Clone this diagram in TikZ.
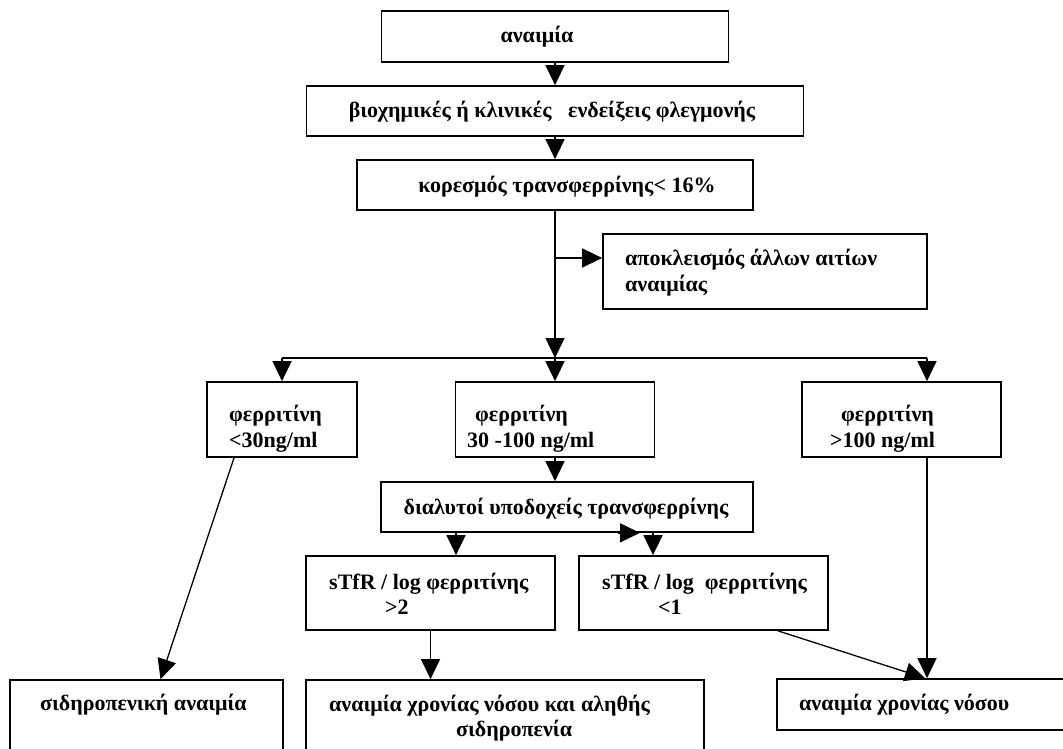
\documentclass[tikz,border=0pt]{standalone}
\usepackage{fontspec}
\setmainfont{Liberation Serif}
\usetikzlibrary{arrows.meta}
\begin{document}
\begin{tikzpicture}[x=1pt,y=-1pt]
      \tikzstyle{every node}+=[inner sep=0pt,font=\fontsize{22}{25.5}\selectfont\bfseries]
      \tikzstyle{box}=[draw=black,line width=1.7pt,rectangle]
      \tikzstyle{txt}=[align=left,anchor=west]
      \tikzstyle{arr}=[black,line width=1.3pt,-{Triangle[length=20pt,width=19pt]}]
      \useasboundingbox (0,0) rectangle (1063,749);
      \clip (0,0) rectangle (1063,749);
      \node [box,minimum width=347pt,minimum height=51pt] (anemia) at (555,36.5) {};
      \node [box,minimum width=497pt,minimum height=50pt] (flegmoni) at (555,111) {};
      \node [box,minimum width=396pt,minimum height=50pt] (koresmos) at (555,185) {};
      \node [box,minimum width=324pt,minimum height=75pt] (apokleismos) at (765,271.5) {};
      \node [box,minimum width=150pt,minimum height=75pt] (ferlow) at (282,419.5) {};
      \node [box,minimum width=199pt,minimum height=75pt] (fermid) at (555,419.5) {};
      \node [box,minimum width=199pt,minimum height=75pt] (ferhigh) at (901.5,419.5) {};
      \node [box,minimum width=372pt,minimum height=50pt] (dialytoi) at (567,507) {};
      \node [box,minimum width=249pt,minimum height=74pt] (ratiohigh) at (430.5,593) {};
      \node [box,minimum width=249pt,minimum height=74pt] (ratiolow) at (703.5,593) {};
      \node [box,minimum width=273pt,minimum height=100pt] (sidiro) at (146.5,730) {};
      \node [box,minimum width=398pt,minimum height=100pt] (mikto) at (505,730) {};
      \node [box,minimum width=313pt,minimum height=51pt] (xronia) at (933.5,704.5) {};
      \node (tanemia) at (537,37) {αναιμία};
      \node (tflegmoni) at (552,112) {βιοχημικές ή κλινικές\ \ \ ενδείξεις φλεγμονής};
      \node (tkoresmos) at (567,187) {κορεσμός τρανσφερρίνης< 16\%};
      \node [txt] (tapokleismos) at (625,272.5) {αποκλεισμός άλλων αιτίων\\αναιμίας};
      \node [txt] (tferlow) at (229,428.5) {φερριτίνη\\<30ng/ml};
      \node [txt] (tfermid) at (467,428.5) {\hspace{8pt}φερριτίνη\\30 -100 ng/ml};
      \node [txt] (tferhigh) at (830,428.5) {\hspace{11pt}φερριτίνη\\>100 ng/ml};
      \node (tdialytoi) at (566,509) {διαλυτοί υποδοχείς τρανσφερρίνης};
      \node [txt] (tratiohigh) at (329,594) {sTfR / log φερριτίνης\\\hspace{56pt}>2};
      \node [txt] (tratiolow) at (602,594) {sTfR / log\ \ φερριτίνης\\\hspace{56pt}<1};
      \node [txt] (tsidiro) at (40,705) {σιδηροπενική αναιμία};
      \node [txt] (tmikto) at (329,718) {αναιμία χρονίας νόσου και αληθής\\\hspace{127pt}σιδηροπενία};
      \node [txt] (txronia) at (799,705) {αναιμία χρονίας νόσου};
      \coordinate (side) at (555,258);
      \coordinate (split) at (555,358);
      \coordinate (splitl) at (282,358);
      \coordinate (splitr) at (927,358);
      \draw [arr] (anemia.south) -- (flegmoni.north);
      \draw [arr] (flegmoni.south) -- (koresmos.north);
      \draw [arr] (koresmos.south) -- (split);
      \draw [arr] (side) -- (side -| apokleismos.west);
      \draw [black,line width=1.3pt] (splitl) -- (splitr);
      \draw [arr] (splitl) -- (ferlow.north);
      \draw [arr] (split) -- (fermid.north);
      \draw [arr] (splitr) -- (splitr |- ferhigh.north);
      \draw [arr] (fermid.south) -- (fermid.south |- dialytoi.north);
      \draw [arr] ([xshift=-111pt]dialytoi.south) -- ([xshift=-111pt]dialytoi.south |- ratiohigh.north);
      \draw [arr] ([xshift=86pt]dialytoi.south) -- ([xshift=86pt]dialytoi.south |- ratiolow.north);
      \draw [arr] ([xshift=51pt]dialytoi.south) -- ++(22,0);
      \draw [arr] ([xshift=-48pt]ferlow.south) -- ([xshift=14pt]sidiro.north);
      \draw [arr] (ratiohigh.south) -- (ratiohigh.south |- mikto.north);
      \draw [arr] ([xshift=74.5pt]ratiolow.south) -- ([xshift=-8.5pt]xronia.north);
      \draw [arr] ([xshift=25.5pt]ferhigh.south) -- ([xshift=25.5pt]ferhigh.south |- xronia.north);
    \end{tikzpicture}
\end{document}
